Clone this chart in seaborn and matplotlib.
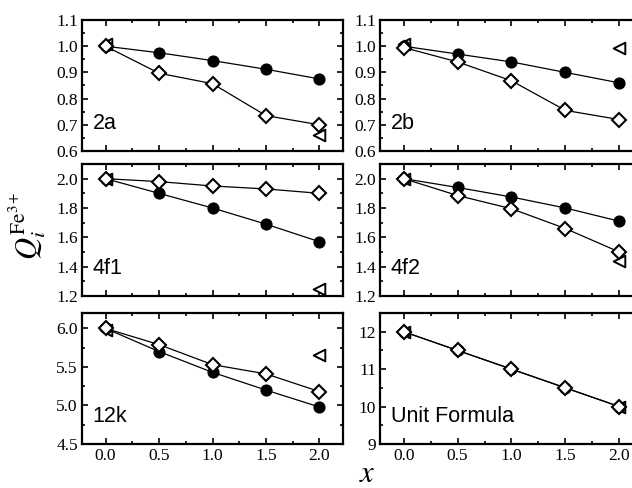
import matplotlib
matplotlib.use("Agg")
import matplotlib.pyplot as plt
import seaborn as sns
import pandas as pd
from matplotlib.ticker import MultipleLocator

sns.set_theme(style="ticks")
plt.rcParams["font.family"] = ["Liberation Serif", "DejaVu Serif"]
plt.rcParams["mathtext.fontset"] = "stix"
plt.rcParams["text.color"] = "black"

x = [0.0, 0.5, 1.0, 1.5, 2.0]
x_tri = [0.0, 2.0]

panels = ["2a", "2b", "4f1", "4f2", "12k", "Unit Formula"]

circ_2a = [1.0, 0.975, 0.945, 0.912, 0.875]
diam_2a = [1.0, 0.897, 0.857, 0.735, 0.70]
tri_2a = [1.01, 0.66]

circ_2b = [1.0, 0.97, 0.94, 0.90, 0.86]
diam_2b = [0.995, 0.94, 0.868, 0.755, 0.72]
tri_2b = [1.01, 0.995]

circ_4f1 = [2.0, 1.90, 1.80, 1.69, 1.57]
diam_4f1 = [2.0, 1.98, 1.95, 1.93, 1.90]
tri_4f1 = [2.0, 1.25]

circ_4f2 = [2.0, 1.94, 1.875, 1.80, 1.71]
diam_4f2 = [2.0, 1.885, 1.795, 1.66, 1.50]
tri_4f2 = [2.0, 1.44]

circ_12k = [6.0, 5.70, 5.43, 5.20, 4.98]
diam_12k = [6.0, 5.79, 5.53, 5.41, 5.18]
tri_12k = [5.98, 5.65]

circ_uf = [12.0, 11.5, 11.0, 10.5, 10.0]
diam_uf = [12.0, 11.5, 11.0, 10.5, 10.0]
tri_uf = [12.0, 10.0]

circles = [circ_2a, circ_2b, circ_4f1, circ_4f2, circ_12k, circ_uf]
diamonds = [diam_2a, diam_2b, diam_4f1, diam_4f2, diam_12k, diam_uf]
triangles = [tri_2a, tri_2b, tri_4f1, tri_4f2, tri_12k, tri_uf]

ylims = [(0.6, 1.1), (0.6, 1.1), (1.2, 2.1), (1.2, 2.1), (4.5, 6.2), (9, 12.5)]
ymajor = [0.1, 0.1, 0.2, 0.2, 0.5, 1.0]
yminor = [0.05, 0.05, 0.1, 0.1, 0.25, 0.5]
yfmt = ["%.1f", "%.1f", "%.1f", "%.1f", "%.1f", "%d"]

W, H = 632, 488
fig = plt.figure(figsize=(W / 100, H / 100), dpi=100)

cols = [(82, 261), (380, 263)]
rows = [(20, 151), (164, 296), (313, 444)]

for i, name in enumerate(panels):
    r, c = divmod(i, 2)
    x0, w = cols[c]
    yt, yb = rows[r]
    ax = fig.add_axes([x0 / W, 1 - yb / H, w / W, (yb - yt) / H])

    sns.scatterplot(x=x_tri, y=triangles[i], ax=ax, marker="<", s=70,
                    facecolor="white", edgecolor="black", linewidth=1.4,
                    zorder=3)
    sns.lineplot(x=x, y=circles[i], ax=ax, color="black", lw=0.9,
                 marker="o", markersize=8, markerfacecolor="black",
                 markeredgecolor="black", zorder=4)
    sns.lineplot(x=x, y=diamonds[i], ax=ax, color="black", lw=0.9,
                 marker="D", markersize=7.5, markerfacecolor="white",
                 markeredgecolor="black", markeredgewidth=1.5, zorder=5)

    ax.set_xlim(-0.22, 2.22)
    ax.set_ylim(*ylims[i])
    ax.xaxis.set_major_locator(MultipleLocator(0.5))
    ax.xaxis.set_minor_locator(MultipleLocator(0.25))
    ax.yaxis.set_major_locator(MultipleLocator(ymajor[i]))
    ax.yaxis.set_minor_locator(MultipleLocator(yminor[i]))
    ax.yaxis.set_major_formatter(plt.FormatStrFormatter(yfmt[i]))
    ax.xaxis.set_major_formatter(plt.FormatStrFormatter("%.1f"))
    ax.tick_params(which="both", direction="in", top=True, right=True,
                   width=1.2, labelsize=12.5, pad=3, colors="black")
    ax.tick_params(which="major", length=4.5)
    ax.tick_params(which="minor", length=2.5)
    if r < 2:
        ax.tick_params(labelbottom=False)
    for s in ax.spines.values():
        s.set_linewidth(1.6)
        s.set_color("black")
    ax.set_xlabel("")
    ax.set_ylabel("")
    ax.text(0.04, 0.17, name, transform=ax.transAxes, fontsize=15.5,
            color="black",
            family=["Liberation Sans", "DejaVu Sans"], ha="left", va="baseline")

fig.text(27 / W, 1 - 226 / H, r"$Q_i^{\mathrm{Fe}^{3+}}$", rotation=90,
         fontsize=22, ha="center", va="center", color="black")
fig.text(367 / W, 1 - 474 / H, r"$x$", fontsize=22, ha="center", va="center",
         color="black")

fig.savefig("out.png", dpi=100)
